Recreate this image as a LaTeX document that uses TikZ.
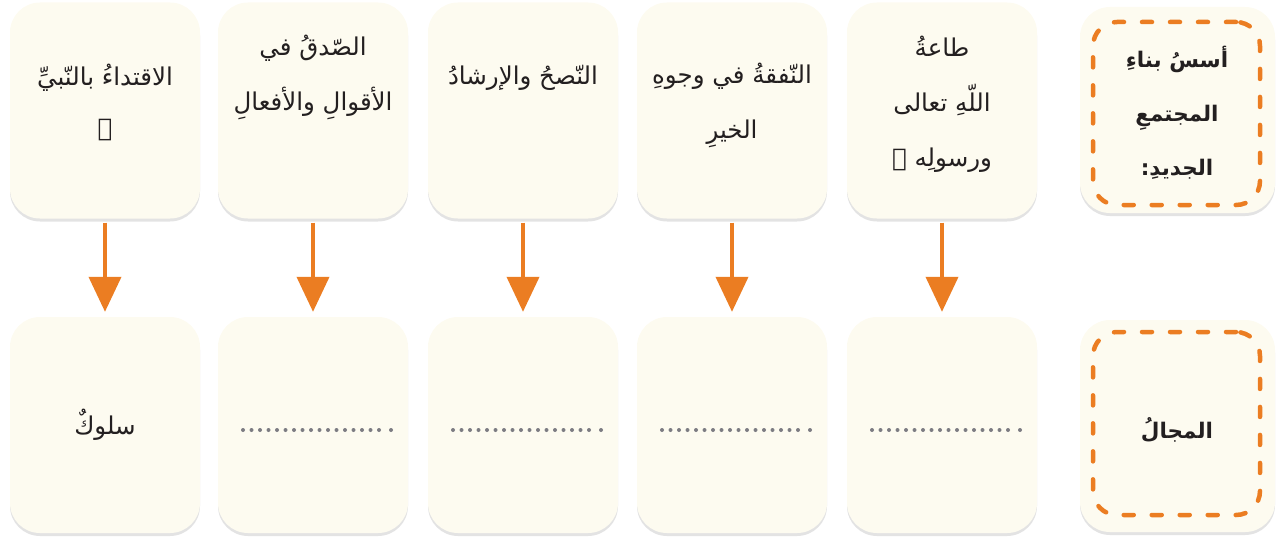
\documentclass[tikz,border=0pt]{standalone}
\usepackage{fontspec}
\usetikzlibrary{arrows.meta,shadows}
\newfontfamily\ar[Script=Arabic]{DejaVu Sans}
\newfontfamily\fA{DejaVu Serif}
\newfontfamily\fB{Noto Sans}
\newfontfamily\fC{Liberation Sans}
\newfontfamily\fD{Liberation Serif}
\newfontfamily\fE{Open Sans}
\newfontfamily\fF{Fira Sans}
\newfontfamily\fG{Lato}
\newfontfamily\fH{Carlito}
\TeXXeTstate=1
\let\pbuhfont\relax
\def\trypbuh#1{\ifx\pbuhfont\relax
  \begingroup#1\iffontchar\font"FDFA\relax\endgroup\gdef\pbuhfont{#1}\else\endgroup\fi\fi}
\trypbuh{\ar}\trypbuh{\fA}\trypbuh{\fB}\trypbuh{\fC}\trypbuh{\fD}\trypbuh{\fE}\trypbuh{\fF}\trypbuh{\fG}\trypbuh{\fH}
\ifx\pbuhfont\relax\def\pbuhfont{\ar}\fi
\newcommand\pbuh{{\pbuhfont ﷺ}}
\definecolor{cream}{HTML}{FDFBF0}
\definecolor{org}{HTML}{EB7D22}
\definecolor{dotg}{HTML}{7C7C82}
\definecolor{ink}{HTML}{231F20}
\tikzset{
  card/.style={draw=none, fill=cream, rounded corners=30pt, minimum width=190pt, minimum height=216pt, inner sep=0pt,
    drop shadow={shadow xshift=0pt, shadow yshift=-3pt, opacity=0.18, fill=black!60}},
  lcard/.style={card, minimum width=195pt},
  dashbox/.style={draw=org, line width=4.5pt, dash pattern=on 10pt off 18pt, line cap=round, rounded corners=24pt,
    minimum width=167pt, inner sep=0pt},
  txt/.style={font=\ar\fontsize{24.5}{55}\selectfont, text=ink, align=center, inner sep=0pt},
  btxt/.style={font=\ar\bfseries\fontsize{21.5}{54}\selectfont, text=ink, align=center, inner sep=0pt},
  arr/.style={draw=org, line width=4pt, -{Triangle[width=32pt,length=35pt]}, shorten <=4pt, shorten >=5pt},
  dots/.style={draw=dotg, line width=4pt, line cap=round, dash pattern=on 0pt off 8.5pt},
}
\begin{document}
\begin{tikzpicture}[x=1pt,y=-1pt]
\useasboundingbox (0,0) rectangle (1283,543);
% top row
\node[card] (t1) at (105,110.5) {};
\node[card] (t2) at (313,110.5) {};
\node[card] (t3) at (523,110.5) {};
\node[card] (t4) at (732,110.5) {};
\node[card] (t5) at (942,110.5) {};
\node[lcard, minimum height=206pt] (l1) at (1177.5,110) {};
\node[dashbox, minimum height=183pt] (l1d) at (1176.5,113.5) {};
% bottom row
\node[card] (b1) at (105,425) {};
\node[card] (b2) at (313,425) {};
\node[card] (b3) at (523,425) {};
\node[card] (b4) at (732,425) {};
\node[card] (b5) at (942,425) {};
\node[lcard, minimum height=212pt] (l2) at (1177.5,426) {};
\node[dashbox, minimum height=183pt] (l2d) at (1176.5,423.5) {};
% texts
\node[txt] (x5) at (942,104) {\beginR طاعةُ\endR\\\beginR اللّهِ تعالى\endR\\\beginR ورسولِه \pbuh\endR};
\node[txt] (x4) at (732,105.5) {\beginR النّفقةُ في وجوهِ\endR\\\beginR الخيرِ\endR};
\node[txt] (x3) at (523,78) {\beginR النّصحُ والإرشادُ\endR};
\node[txt] (x2) at (313,77.5) {\beginR الصّدقُ في\endR\\\beginR الأقوالِ والأفعالِ\endR};
\node[txt] (x1) at (105,78) {\beginR الاقتداءُ بالنّبيِّ\endR};
\node[txt] (x1b) at (105,130) {\pbuh};
\node[btxt] (lx1) at (1177,113) {\beginR أسسُ بناءِ\endR\\\beginR المجتمعِ\endR\\\beginR الجديدِ:\endR};
\node[btxt] (lx2) at (1177,430) {\beginR المجالُ\endR};
\node[txt] (y1) at (105,425) {\beginR سلوكٌ\endR};
% arrows
\foreach \i in {1,...,5} { \draw[arr] (t\i.south) -- (b\i.north); }
% dotted answer lines
\foreach \i in {2,...,5} {
  \coordinate (d\i a) at ([xshift=-70pt,yshift=-5pt]b\i.center);
  \coordinate (d\i b) at ([xshift=66pt,yshift=-5pt]b\i.center);
  \coordinate (d\i c) at ([xshift=78pt,yshift=-5pt]b\i.center);
  \draw[dots] (d\i a) -- (d\i b);
  \fill[dotg] (d\i c) circle (2pt);
}
\end{tikzpicture}
\end{document}
